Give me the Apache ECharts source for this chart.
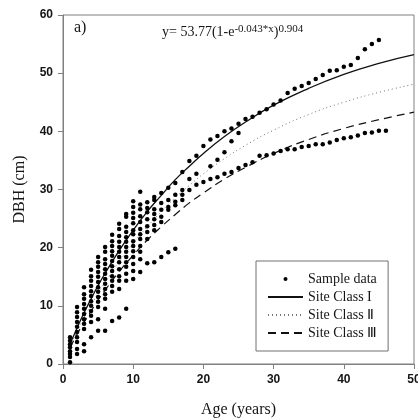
<!DOCTYPE html>
<html><head><meta charset="utf-8">
<script src="https://cdn.jsdelivr.net/npm/echarts@6/dist/echarts.min.js"></script>
<style>html,body{margin:0;padding:0;background:#fff}#c{width:418px;height:419px}</style>
</head><body><div id="c"></div>
<script>
// ---- data ----
const youngAges = [1,2,3,4,5,6,7,8,9,10,11,12,13,14,15,16,17];
const youngDbh = [
  [0.3,1.2,1.7,2.2,2.9,3.4,4.0,4.6],
  [1.7,2.6,3.8,4.6,5.5,6.4,7.2,8.1,8.9,9.8],
  [2.2,3.4,6.0,6.9,7.7,8.6,9.5,10.3,11.2,12.0,13.2],
  [4.6,7.2,8.3,9.1,10.0,10.8,11.7,12.5,13.4,14.3,15.1,16.2],
  [5.7,7.7,9.8,10.7,11.5,12.4,13.2,14.1,15.0,15.8,16.7,17.5,18.4],
  [5.7,9.5,11.2,12.0,12.9,13.8,14.6,15.5,16.3,17.2,18.0,19.3,20.1],
  [7.4,12.4,13.4,14.3,15.1,16.0,16.8,17.7,18.6,19.4,20.3,21.1,22.2],
  [8.0,12.9,14.3,15.1,16.3,17.5,18.4,19.3,20.1,21.0,22.0,23.2,24.1],
  [9.5,14.3,15.5,16.7,17.5,18.4,19.3,20.1,21.0,21.8,22.7,23.6,25.3,25.8],
  [14.6,16.0,17.2,18.4,19.4,20.3,21.1,22.3,23.0,24.2,25.1,26.0,27.0,28.0],
  [15.8,18.0,19.3,20.3,21.5,22.3,23.2,24.4,25.4,26.6,27.4,29.6],
  [17.3,21.5,22.7,23.7,24.9,26.1,26.8,27.8],
  [17.5,23.0,23.9,24.9,25.8,26.6,28.2,28.7],
  [18.4,24.4,25.3,26.5,27.7,29.4],
  [19.2,26.5,27.0,28.2,30.3],
  [19.8,27.3,27.9,29.1,31.1],
  [28.2,29.1,29.9,33.0]
];
const upperAges = [18,19,20,21,22,23,24,25,26,27,28,29,30,31,32,33,34,35,36,37,38,39,40,41,42,43,44,45];
const upperDbh  = [34.9,35.8,37.5,38.6,39.2,40.0,40.5,41.3,42.1,42.5,43.2,43.8,44.6,45.3,46.6,47.3,47.8,48.3,49.0,49.7,50.4,50.5,51.1,51.4,52.6,54.1,55.0,55.7];
const middleAges = [18,19,21,22,23,24,25];
const middleDbh  = [31.8,32.7,34.0,35.1,36.4,38.3,39.7];
const lowerAges = [18,19,20,21,22,23,24,25,26,27,28,29,30,31,32,33,34,35,36,37,38,39,40,41,42,43,44,45,46];
const lowerDbh  = [29.9,30.8,31.3,31.8,32.1,32.7,33.0,33.7,34.2,34.7,35.8,35.9,36.2,36.6,36.9,36.9,37.3,37.5,37.8,37.8,38.1,38.5,38.8,39.0,39.3,39.7,39.8,40.1,40.1];

const curveAges = [1,2,3,4,5,6,8,10,12,14,16,18,20,23,26,30,35,40,45,50];
const siteI   = [3.4,6.2,8.8,11.2,13.5,15.6,19.5,23.0,26.2,29.0,31.7,34.0,36.2,39.1,41.6,44.5,47.4,49.8,51.7,53.2];
const siteII  = [3.1,5.6,8.0,10.1,12.2,14.1,17.6,20.8,23.6,26.2,28.6,30.7,32.7,35.3,37.6,40.2,42.9,45.0,46.7,48.1];
const siteIII = [2.8,5.1,7.2,9.1,11.0,12.7,15.9,18.7,21.3,23.6,25.7,27.7,29.4,31.8,33.8,36.2,38.6,40.5,42.0,43.3];

const xTicks = {min: 0, max: 50, interval: 10};
const yTicks = {min: 0, max: 60, interval: 10};
const seriesNames = ['Sample data', 'Site Class I', 'Site Class Ⅱ', 'Site Class Ⅲ'];

// ---- build ----
const samples = [];
youngAges.forEach((a, i) => youngDbh[i].forEach(v => samples.push([a, v])));
[[upperAges, upperDbh], [middleAges, middleDbh], [lowerAges, lowerDbh]].forEach(([ages, vals]) => {
  ages.forEach((a, i) => samples.push([a, vals[i]]));
});
const pair = vals => curveAges.map((a, i) => [a, vals[i]]);

const serif = 'Liberation Serif';
const axisCommon = {
  axisLine: {show: true, lineStyle: {color: '#808080', width: 1}},
  axisTick: {show: true, length: 5, lineStyle: {color: '#808080'}},
  axisLabel: {fontFamily: 'Liberation Sans', fontWeight: 'bold', fontSize: 12, color: '#151515', margin: 10},
  splitLine: {show: false},
  nameTextStyle: {fontFamily: serif, fontSize: 16, color: '#151515'},
  nameLocation: 'middle'
};

const chart = echarts.init(document.getElementById('c'), null, {renderer: 'canvas'});
chart.setOption({
  animation: false,
  backgroundColor: '#fff',
  grid: {left: 63, right: 4, top: 15, bottom: 55, show: true, borderColor: '#808080', borderWidth: 1,
         containLabel: false, outerBoundsMode: 'none'},
  xAxis: Object.assign({type: 'value', name: 'Age (years)', nameGap: 38}, xTicks, axisCommon),
  yAxis: Object.assign({type: 'value', name: 'DBH (cm)', nameGap: 35}, yTicks, axisCommon),
  legend: {
    orient: 'vertical', left: 256, top: 261,
    padding: [10, 11, 10, 11], itemGap: 2, itemWidth: 35, itemHeight: 4,
    borderColor: '#707070', borderWidth: 1, backgroundColor: '#fff',
    textStyle: {fontFamily: serif, fontSize: 14, color: '#151515', lineHeight: 16},
    data: [
      {name: seriesNames[0]},
      {name: seriesNames[1], itemStyle: {opacity: 0}},
      {name: seriesNames[2], itemStyle: {opacity: 0}},
      {name: seriesNames[3], itemStyle: {opacity: 0}}
    ]
  },
  graphic: [
    {type: 'text', left: 74, top: 20, style: {text: 'a)', font: '16px "Liberation Serif"', fill: '#151515'}},
    {type: 'text', left: 162, top: 24, style: {
      text: '{m|y= 53.77(1-e}{s|-0.043*x}{m|)}{s|0.904}',
      fill: '#151515',
      rich: {
        m: {fontFamily: serif, fontSize: 14, lineHeight: 15, verticalAlign: 'bottom'},
        s: {fontFamily: serif, fontSize: 11, lineHeight: 11, verticalAlign: 'top', padding: [0, 0, 8, 0]}
      }
    }}
  ],
  series: [
    {name: seriesNames[0], type: 'scatter', data: samples, symbol: 'circle', symbolSize: 4.5,
     itemStyle: {color: '#000', opacity: 1}, z: 3},
    {name: seriesNames[1], type: 'line', data: pair(siteI), smooth: true, symbol: 'none',
     lineStyle: {color: '#111', width: 1.3, type: 'solid'}, itemStyle: {color: '#111'}},
    {name: seriesNames[2], type: 'line', data: pair(siteII), smooth: true, symbol: 'none',
     lineStyle: {color: '#777', width: 1, type: [1, 3]}, itemStyle: {color: '#777'}},
    {name: seriesNames[3], type: 'line', data: pair(siteIII), smooth: true, symbol: 'none',
     lineStyle: {color: '#111', width: 1.2, type: [8, 5]}, itemStyle: {color: '#111'}}
  ]
});
</script></body></html>
